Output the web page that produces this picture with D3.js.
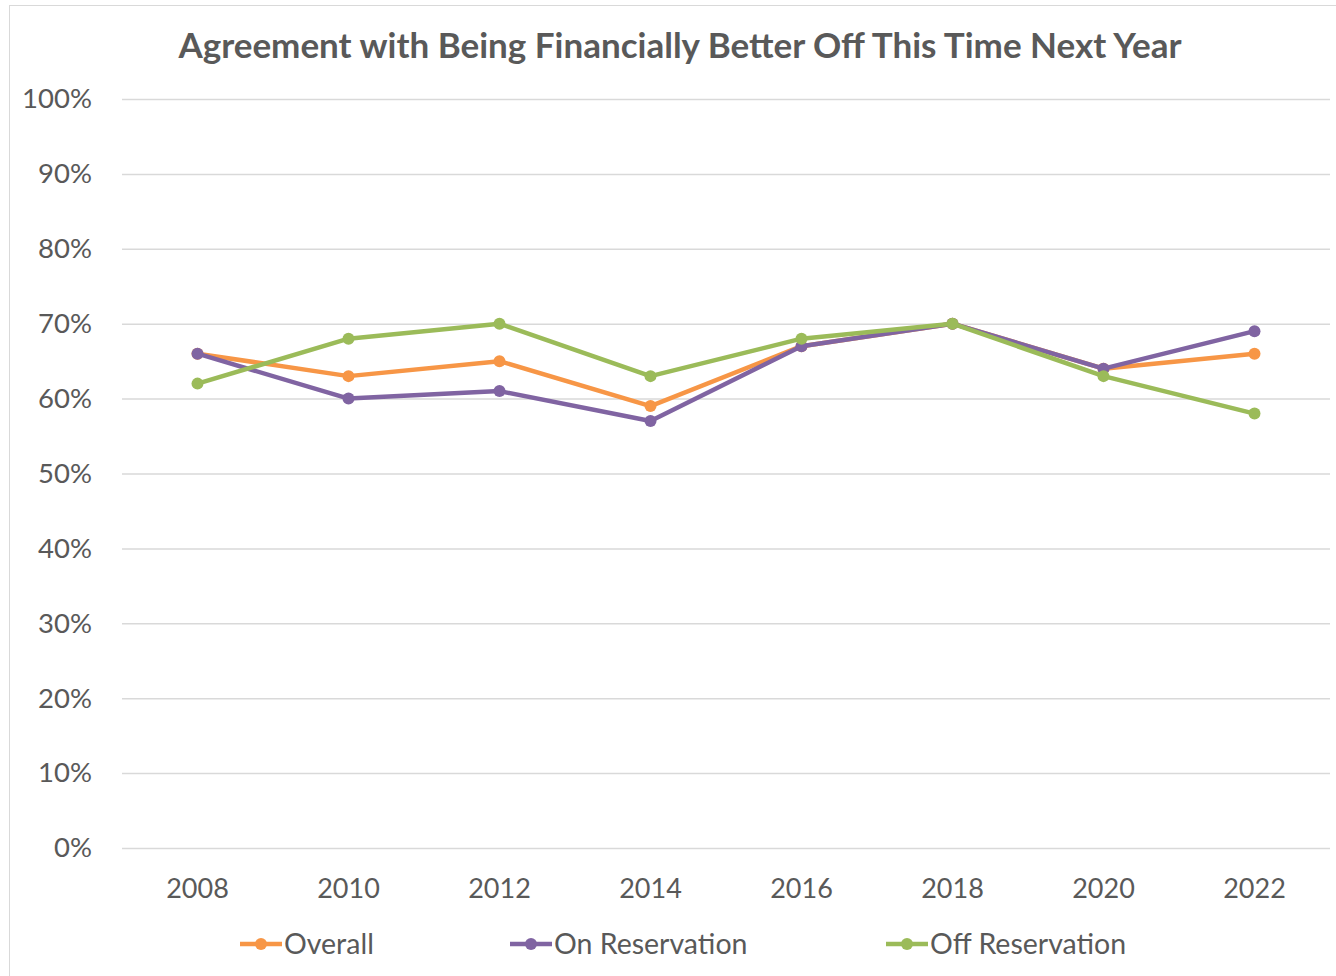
<!DOCTYPE html>
<html>
<head>
<meta charset="utf-8">
<script src="https://cdn.jsdelivr.net/npm/d3@7"></script>
<style>
  html, body { margin: 0; padding: 0; background: #fff; }
  svg { display: block; font-family: Lato, "Open Sans", sans-serif; }
</style>
</head>
<body>
<div id="chart"></div>
<script>
// 데이터
const years = ['2008', '2010', '2012', '2014', '2016', '2018', '2020', '2022'];
const overall = [66, 63, 65, 59, 67, 70, 64, 66];
const onReservation = [66, 60, 61, 57, 67, 70, 64, 69];
const offReservation = [62, 68, 70, 63, 68, 70, 63, 58];
const yTicks = [0, 10, 20, 30, 40, 50, 60, 70, 80, 90, 100];

const series = [
  { name: 'Overall', values: overall, color: '#F79646' },
  { name: 'On Reservation', values: onReservation, color: '#8064A2' },
  { name: 'Off Reservation', values: offReservation, color: '#9BBB59' },
];

const W = 1336, H = 976;
const svg = d3.select('#chart').append('svg').attr('width', W).attr('height', H);

// 테두리
svg.append('rect').attr('x', 9.5).attr('y', 5.5).attr('width', W + 10).attr('height', H + 10)
  .attr('fill', 'none').attr('stroke', '#d9d9d9').attr('stroke-width', 1);

const x = d3.scaleBand().domain(years).range([122, 1330]);
const y = d3.scaleLinear().domain([0, 100]).range([848, 99]);

svg.append('text').attr('x', 680).attr('y', 58).attr('text-anchor', 'middle')
  .attr('font-size', 35).attr('font-weight', 'bold').attr('fill', '#595959')
  .text('Agreement with Being Financially Better Off This Time Next Year');

// 그리드
const yAxis = svg.append('g').attr('transform', 'translate(122,0)')
  .call(d3.axisLeft(y).tickValues(yTicks).tickSize(-1208).tickFormat(d => d + '%'));
yAxis.select('.domain').remove();
yAxis.selectAll('.tick line').attr('stroke', '#d9d9d9').attr('stroke-width', 1.5);
yAxis.selectAll('.tick text').attr('x', -30).attr('font-size', 27.5).attr('fill', '#595959')
  .attr('font-family', 'Lato, "Open Sans", sans-serif');

const xAxis = svg.append('g').attr('transform', 'translate(0,848)')
  .call(d3.axisBottom(x).tickSize(0));
xAxis.select('.domain').remove();
xAxis.selectAll('.tick text').attr('dy', 0).attr('y', 50).attr('font-size', 27).attr('fill', '#595959')
  .attr('font-family', 'Lato, "Open Sans", sans-serif');

const cx = (d, i) => x(years[i]) + x.bandwidth() / 2;
const line = d3.line().x(cx).y(d => y(d));

// 선 + 점
series.forEach(s => {
  const g = svg.append('g');
  g.append('path').datum(s.values).attr('d', line).attr('fill', 'none')
    .attr('stroke', s.color).attr('stroke-width', 4.5).attr('stroke-linejoin', 'round');
  g.selectAll('circle').data(s.values).join('circle')
    .attr('cx', cx).attr('cy', d => y(d)).attr('r', 6).attr('fill', s.color);
});

// 범례
const legendX = [240, 510, 886];
series.forEach((s, i) => {
  const g = svg.append('g').attr('transform', `translate(${legendX[i]},944)`);
  g.append('line').attr('x1', 0).attr('x2', 42).attr('stroke', s.color).attr('stroke-width', 4.5);
  g.append('circle').attr('cx', 21).attr('r', 6).attr('fill', s.color);
  g.append('text').attr('x', 44).attr('y', 10).attr('font-size', 28.5).attr('fill', '#595959').text(s.name);
});
</script>
</body>
</html>
